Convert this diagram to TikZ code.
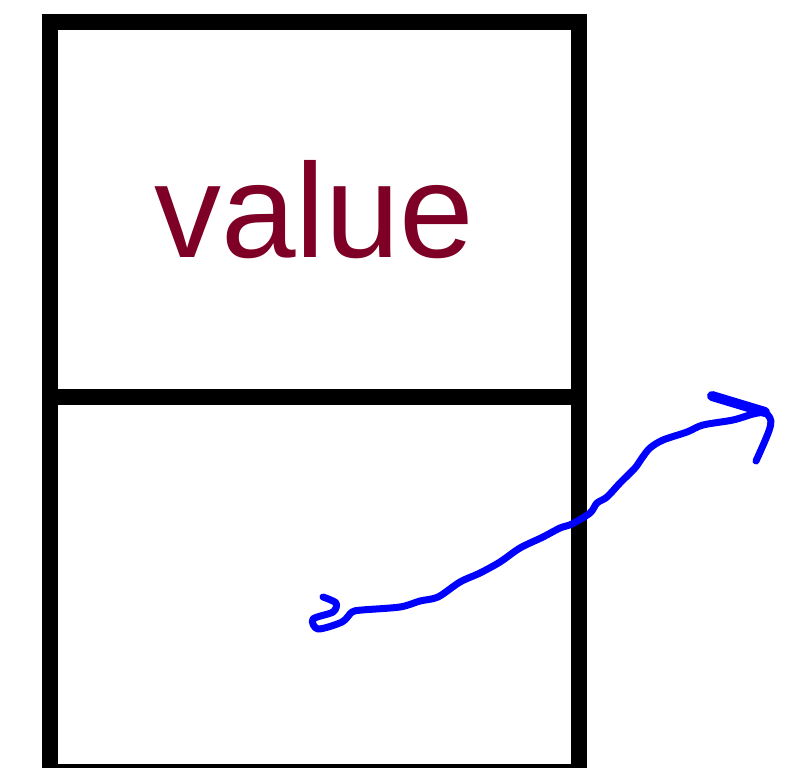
\documentclass[tikz,border=0pt]{standalone}
\usepackage{fontspec}
\setmainfont{Liberation Sans}
\usepackage{xcolor}
\usetikzlibrary{
    positioning
}
\definecolor{VinhoTexto}{HTML}{7F0026}
\definecolor{AzulTraco}{HTML}{0000FF}

\tikzset{
    cell/.style={
        draw=black,
        line width=16pt,
        outer sep=0pt,
        inner sep=0pt,
        minimum width=528.5pt,
        minimum height=375pt
    },
    scribble/.style={
        draw=AzulTraco,
        line width=7pt,
        line cap=round,
        line join=round
    }
}

\begin{document}
\begin{tikzpicture}[x=1pt, y=-1pt]
    \useasboundingbox (0,0) rectangle (804,768);
    \node[
        cell,
        text=VinhoTexto,
        font=\fontsize{134}{134}\selectfont
    ] (valuecell) at (314.25,209.5) {value};
    \node[cell, below=0pt of valuecell] (linkcell) {};
    \coordinate (tail) at (323,597);
    \coordinate (tip) at (765,412);
    \draw[scribble] plot[smooth, tension=0.5] coordinates {
        (tail) (336,603) (333,612) (313,619) (318,629) (342,622) (352,612)
        (362,610) (400,607) (420,601) (438,597) (460,582) (480,573)
        (500,562) (520,548) (543,537) (560,528) (572,524) (590,513)
        (597,503) (607,497) (620,483) (635,468) (642,458) (650,448)
        (663,440) (687,432) (703,425) (733,420) (753,414) (tip)
    };
    \draw[scribble, line width=10pt] (712,396) -- (tip);
    \draw[scribble] (tip) .. controls (774,421) .. (756,461);
\end{tikzpicture}
\end{document}
